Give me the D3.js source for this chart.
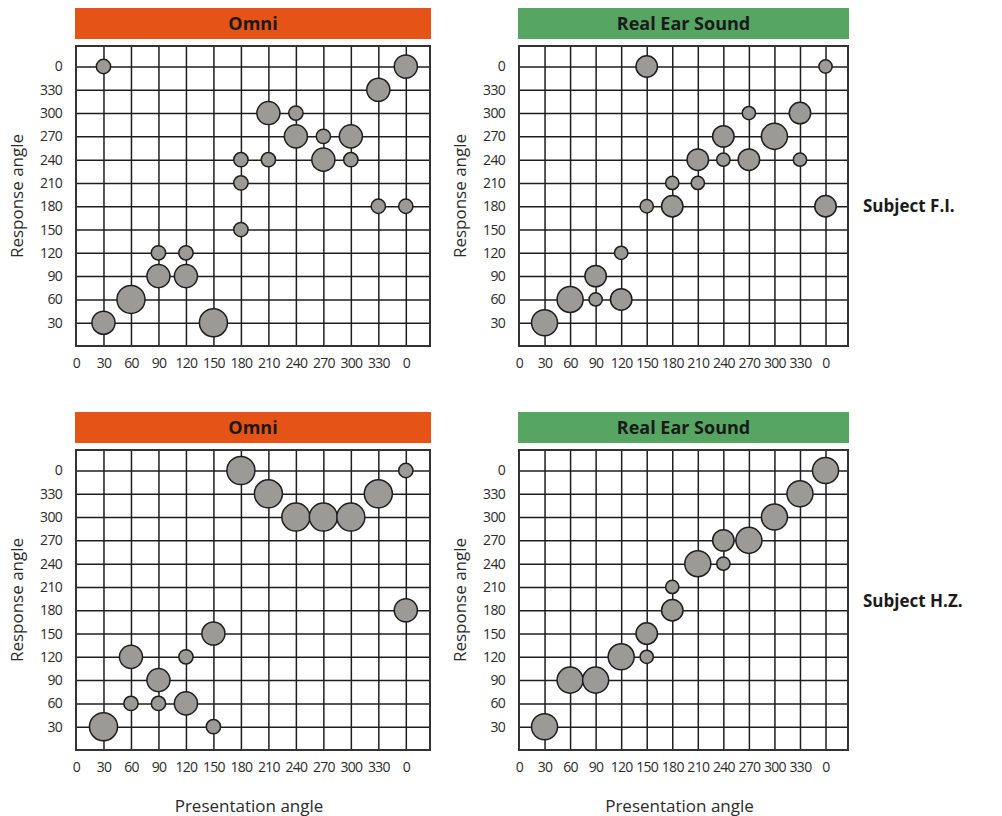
<!DOCTYPE html>
<html>
<head>
<meta charset="utf-8">
<script src="https://cdn.jsdelivr.net/npm/d3@7"></script>
<style>
	body { margin: 0; background: #fff; }
	svg { display: block; font-family: "Open Sans", "Noto Sans", sans-serif; }
</style>
</head>
<body>
<div id="chart"></div>
<script>
// angle labels, position index 0..12 (0 = left/bottom edge)
var xTickLabels = ['0', '30', '60', '90', '120', '150', '180', '210', '240', '270', '300', '330', '0'];
var yTickLabels = ['30', '60', '90', '120', '150', '180', '210', '240', '270', '300', '330', '0'];

// [presentation angle, response angle, count]; 360 stands for the trailing "0"
var omniFI = [
	[30, 360, 1], [360, 360, 2], [330, 330, 2], [210, 300, 2], [240, 300, 1],
	[240, 270, 2], [270, 270, 1], [300, 270, 2], [180, 240, 1], [210, 240, 1],
	[270, 240, 2], [300, 240, 1], [180, 210, 1], [330, 180, 1], [360, 180, 1],
	[180, 150, 1], [90, 120, 1], [120, 120, 1], [90, 90, 2], [120, 90, 2],
	[60, 60, 3], [30, 30, 2], [150, 30, 3]
];
var resFI = [
	[150, 360, 2], [360, 360, 1], [270, 300, 1], [330, 300, 2], [240, 270, 2],
	[300, 270, 3], [210, 240, 2], [240, 240, 1], [270, 240, 2], [330, 240, 1],
	[180, 210, 1], [210, 210, 1], [150, 180, 1], [180, 180, 2], [360, 180, 2],
	[120, 120, 1], [90, 90, 2], [60, 60, 3], [90, 60, 1], [120, 60, 2], [30, 30, 3]
];
var omniHZ = [
	[180, 360, 3], [360, 360, 1], [210, 330, 3], [330, 330, 3], [240, 300, 3],
	[270, 300, 3], [300, 300, 3], [360, 180, 2], [150, 150, 2], [60, 120, 2],
	[120, 120, 1], [90, 90, 2], [60, 60, 1], [90, 60, 1], [120, 60, 2],
	[30, 30, 3], [150, 30, 1]
];
var resHZ = [
	[360, 360, 3], [330, 330, 3], [300, 300, 3], [240, 270, 2], [270, 270, 3],
	[210, 240, 3], [240, 240, 1], [180, 210, 1], [180, 180, 2], [150, 150, 2],
	[150, 120, 1], [120, 120, 3], [60, 90, 3], [90, 90, 3], [30, 30, 3]
];

var panelTitles = ['Omni', 'Real Ear Sound', 'Omni', 'Real Ear Sound'];
var subjects = ['Subject F.I.', 'Subject H.Z.'];

var fmt = {
	clr_omni: '#e55316',
	clr_res: '#56a563',
	clr_bubble: '#9c9a96',
	clr_line: '#1e1e1e',
	clr_text: '#2b2b2b'
};

var svg = d3.select('#chart').append('svg')
	.attr('width', 1002)
	.attr('height', 816);

function drawPanel(box, data, title, hdrColor, showXTitle) {
	var x = d3.scaleLinear().domain([0, 12.88]).range([box.x0, box.x1]);
	var y = d3.scaleLinear().domain([0, 12.88]).range([box.y1, box.y0]);
	var col = x(1) - x(0);
	var r = d3.scaleOrdinal().domain([1, 2, 3]).range([0.26 * col, 0.42 * col, 0.51 * col]);
	var g = svg.append('g');

	// header bar
	g.append('rect')
		.attr('x', box.x0 - 1)
		.attr('y', box.y0 - 38)
		.attr('width', box.x1 - box.x0 + 2)
		.attr('height', 31)
		.attr('fill', hdrColor);
	g.append('text')
		.attr('x', (box.x0 + box.x1) / 2)
		.attr('y', box.y0 - 16)
		.attr('text-anchor', 'middle')
		.attr('font-size', 18)
		.attr('font-weight', 'bold')
		.attr('fill', '#1a1a1a')
		.text(title);

	// grid
	g.append('g')
		.attr('class', 'grid')
		.attr('transform', `translate(0,${box.y1})`)
		.call(d3.axisBottom(x).tickValues(d3.range(1, 13)).tickSize(-(box.y1 - box.y0)).tickFormat(''));
	g.append('g')
		.attr('class', 'grid')
		.attr('transform', `translate(${box.x0},0)`)
		.call(d3.axisLeft(y).tickValues(d3.range(1, 13)).tickSize(-(box.x1 - box.x0)).tickFormat(''));
	g.selectAll('.grid .domain').remove();
	g.selectAll('.grid line')
		.attr('stroke', fmt.clr_line)
		.attr('stroke-width', 1.5);
	g.append('rect')
		.attr('x', box.x0)
		.attr('y', box.y0)
		.attr('width', box.x1 - box.x0)
		.attr('height', box.y1 - box.y0)
		.attr('fill', 'none')
		.attr('stroke', '#333')
		.attr('stroke-width', 2);

	// tick labels
	var xa = g.append('g')
		.attr('transform', `translate(0,${box.y1})`)
		.call(d3.axisBottom(x).tickValues(d3.range(0, 13)).tickSize(0).tickPadding(12)
			.tickFormat(function(d) { return xTickLabels[d]; }));
	var ya = g.append('g')
		.attr('transform', `translate(${box.x0},0)`)
		.call(d3.axisLeft(y).tickValues(d3.range(1, 13)).tickSize(0).tickPadding(14)
			.tickFormat(function(d) { return yTickLabels[d - 1]; }));
	[xa, ya].forEach(function(a) {
		a.select('.domain').remove();
		a.selectAll('text')
			.attr('font-size', 14)
			.attr('letter-spacing', '-0.7px')
			.attr('font-family', '"Open Sans", sans-serif')
			.attr('fill', fmt.clr_text);
	});

	// axis titles
	g.append('text')
		.attr('transform', `translate(${box.x0 - 53},${(box.y0 + box.y1) / 2}) rotate(-90)`)
		.attr('text-anchor', 'middle')
		.attr('font-size', 17)
		.attr('fill', fmt.clr_text)
		.text('Response angle');
	if (showXTitle) {
		g.append('text')
			.attr('x', (box.x0 + box.x1) / 2 - 4)
			.attr('y', box.y1 + 62)
			.attr('text-anchor', 'middle')
			.attr('font-size', 17)
			.attr('fill', fmt.clr_text)
			.text('Presentation angle');
	}

	// bubbles
	g.append('g').selectAll('circle')
		.data(data)
		.join('circle')
		.attr('cx', function(d) { return x(d[0] / 30); })
		.attr('cy', function(d) { return y(d[1] / 30); })
		.attr('r', function(d) { return r(d[2]); })
		.attr('fill', fmt.clr_bubble)
		.attr('stroke', fmt.clr_line)
		.attr('stroke-width', 1.5);
}

drawPanel({x0: 76, x1: 430, y0: 46, y1: 346}, omniFI, panelTitles[0], fmt.clr_omni, false);
drawPanel({x0: 519, x1: 848, y0: 46, y1: 346}, resFI, panelTitles[1], fmt.clr_res, false);
drawPanel({x0: 76, x1: 430, y0: 450, y1: 750}, omniHZ, panelTitles[2], fmt.clr_omni, true);
drawPanel({x0: 519, x1: 848, y0: 450, y1: 750}, resHZ, panelTitles[3], fmt.clr_res, true);

svg.selectAll('text.subject')
	.data(subjects)
	.join('text')
	.attr('class', 'subject')
	.attr('x', 863)
	.attr('y', function(d, i) { return i === 0 ? 212 : 607; })
	.attr('font-size', 17)
	.attr('font-weight', 'bold')
	.attr('fill', '#1a1a1a')
	.text(function(d) { return d; });
</script>
</body>
</html>
